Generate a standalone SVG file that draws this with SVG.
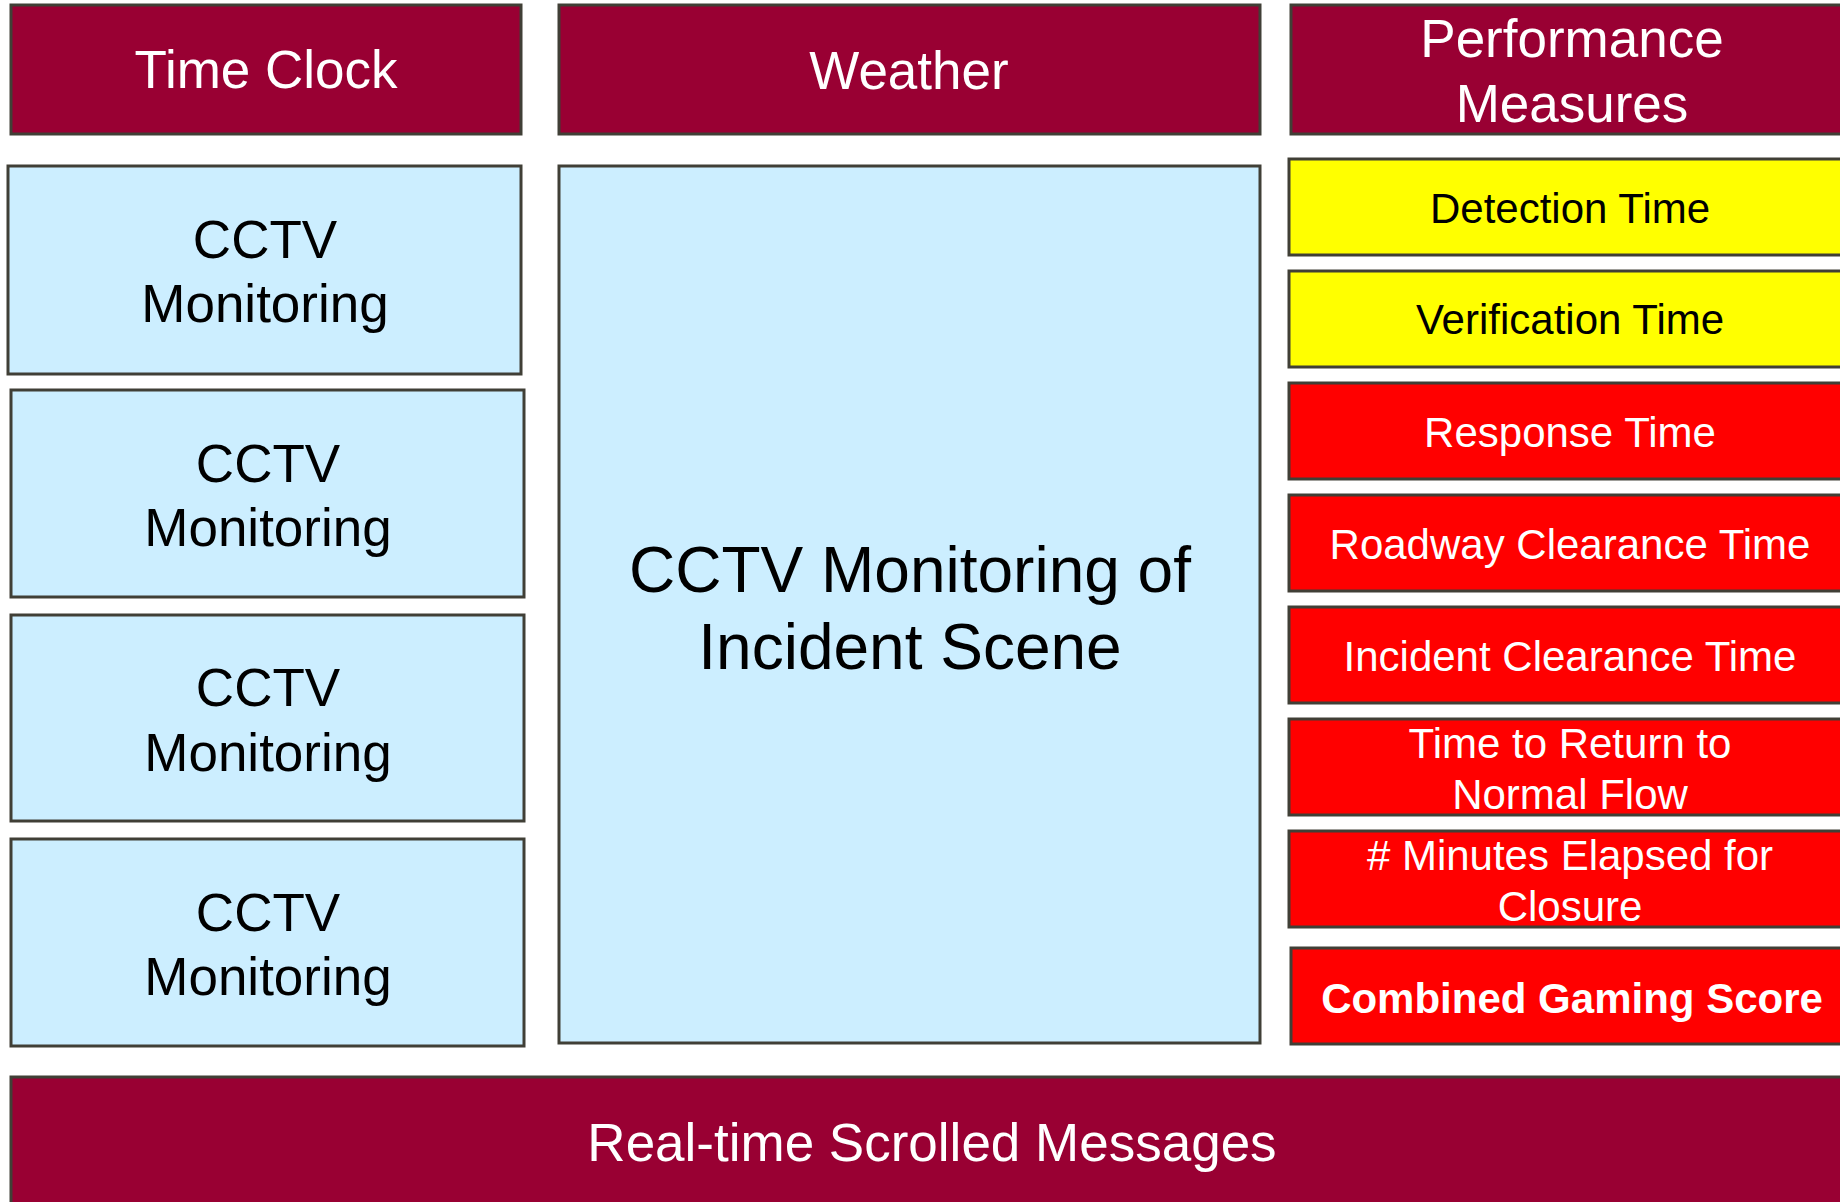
<svg xmlns="http://www.w3.org/2000/svg" width="1840" height="1202" viewBox="0 0 1840 1202">
<style>
rect{stroke:#403f36;stroke-width:3}
.hdr{fill:#990033}
.cam{fill:#cceeff}
.yel{fill:#ffff00}
.red{fill:#ff0000}
text{font-family:"Liberation Sans",Arial,sans-serif;text-anchor:middle}
.w{fill:#ffffff}
.k{fill:#000000}
.f53{font-size:53px}
.f64{font-size:64px}
.f42{font-size:42px}
.b{font-weight:bold}
</style>
<rect x="0" y="0" width="1840" height="1202" fill="#ffffff" style="stroke:none"/>
<g id="time-clock"><rect class="hdr" x="11" y="5" width="510" height="129"/><text class="w f53" x="266" y="88">Time Clock</text></g>
<g id="weather"><rect class="hdr" x="559" y="5" width="701" height="129"/><text class="w f53" x="909" y="89">Weather</text></g>
<g id="performance-measures"><rect class="hdr" x="1291" y="5" width="562" height="129"/><text class="w f53" x="1572" y="57">Performance</text><text class="w f53" x="1572" y="122">Measures</text></g>
<g id="cctv-1"><rect class="cam" x="8" y="166" width="513" height="208"/><text class="k f53" x="265" y="258">CCTV</text><text class="k f53" x="265" y="322">Monitoring</text></g>
<g id="cctv-2"><rect class="cam" x="11" y="390" width="513" height="207"/><text class="k f53" x="268" y="482">CCTV</text><text class="k f53" x="268" y="546">Monitoring</text></g>
<g id="cctv-3"><rect class="cam" x="11" y="615" width="513" height="206"/><text class="k f53" x="268" y="706">CCTV</text><text class="k f53" x="268" y="771">Monitoring</text></g>
<g id="cctv-4"><rect class="cam" x="11" y="839" width="513" height="207"/><text class="k f53" x="268" y="931">CCTV</text><text class="k f53" x="268" y="995">Monitoring</text></g>
<g id="incident-scene"><rect class="cam" x="559" y="166" width="701" height="877"/><text class="k f64" x="910" y="592">CCTV Monitoring of</text><text class="k f64" x="910" y="669">Incident Scene</text></g>
<g id="detection-time"><rect class="yel" x="1289" y="159" width="564" height="96"/><text class="k f42" x="1570" y="223">Detection Time</text></g>
<g id="verification-time"><rect class="yel" x="1289" y="271" width="564" height="96"/><text class="k f42" x="1570" y="334">Verification Time</text></g>
<g id="response-time"><rect class="red" x="1289" y="383" width="564" height="96"/><text class="w f42" x="1570" y="447">Response Time</text></g>
<g id="roadway-clearance-time"><rect class="red" x="1289" y="495" width="564" height="96"/><text class="w f42" x="1570" y="559">Roadway Clearance Time</text></g>
<g id="incident-clearance-time"><rect class="red" x="1289" y="607" width="564" height="96"/><text class="w f42" x="1570" y="671">Incident Clearance Time</text></g>
<g id="time-to-return"><rect class="red" x="1289" y="719" width="564" height="96"/><text class="w f42" x="1570" y="758">Time to Return to</text><text class="w f42" x="1570" y="809">Normal Flow</text></g>
<g id="minutes-elapsed"><rect class="red" x="1289" y="831" width="564" height="96"/><text class="w f42" x="1570" y="870"># Minutes Elapsed for</text><text class="w f42" x="1570" y="921">Closure</text></g>
<g id="combined-gaming-score"><rect class="red" x="1291" y="948" width="564" height="96"/><text class="w f42 b" x="1572" y="1013">Combined Gaming Score</text></g>
<g id="scrolled-messages"><rect class="hdr" x="11" y="1077" width="1843" height="130"/><text class="w f53" x="932" y="1161">Real-time Scrolled Messages</text></g>
<g id="connectors"></g>
</svg>
